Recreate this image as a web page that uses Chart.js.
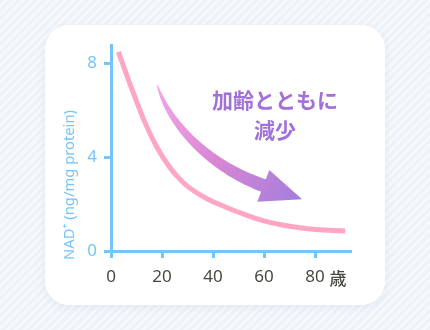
<!DOCTYPE html>
<html>
<head>
<meta charset="utf-8">
<script src="https://cdn.jsdelivr.net/npm/chart.js@4.4.1/dist/chart.umd.min.js"></script>
<style>
  html, body { margin:0; padding:0; }
  body {
    width:430px; height:330px; overflow:hidden; position:relative;
    background: repeating-linear-gradient(135deg, #eef3f8 0px, #eef3f8 3px, #f6f9fc 3px, #f6f9fc 6px);
  }
  #card {
    position:absolute; left:45px; top:25px; width:340px; height:280px;
    background:#fff; border-radius:24px;
    box-shadow: 0 2px 10px rgba(150,170,195,0.18);
  }
  #wrap { position:absolute; left:0; top:0; width:430px; height:330px; }
</style>
</head>
<body>
<div id="card"></div>
<div id="wrap"><canvas id="c" width="430" height="330"></canvas></div>
<script>
// ---- data ----
const ages      = [2.9, 8, 13, 18, 23, 28, 33, 38, 43, 50, 60, 70, 80, 91.8];
const nadValues = [8.48, 6.95, 5.55, 4.42, 3.57, 2.95, 2.52, 2.20, 1.96, 1.65, 1.28, 1.05, 0.92, 0.85];
const xTicks    = [0, 20, 40, 60, 80];
const yTicks    = [0, 4, 8];
const xUnit     = '歳';
const yTitle    = 'NAD⁺ (ng/mg protein)';
const noteLines = ['加齢とともに', '減少'];

const BLUE = '#76c5f9';
const FONT = '"Noto Sans", Lato, "Noto Sans CJK JP", sans-serif';

const decor = {
  id: 'decor',
  afterDraw(chart) {
    const ctx = chart.ctx, xs = chart.scales.x, ys = chart.scales.y;
    const P = (a, v) => [xs.getPixelForValue(a), ys.getPixelForValue(v)];
    // arrow (annotation) in data coordinates
    const p0 = P(18.04, 7.106), p1 = P(23.14, 5.234), p2 = P(40.78, 3.447), p3 = P(61.57, 2.723);
    const tip = P(74.9, 2.2), b1 = P(62.08, 3.447), b2 = P(57.37, 2.098);
    const bez = (t) => {
      const u = 1 - t;
      const c = [u*u*u, 3*u*u*t, 3*u*t*t, t*t*t];
      return [c[0]*p0[0]+c[1]*p1[0]+c[2]*p2[0]+c[3]*p3[0], c[0]*p0[1]+c[1]*p1[1]+c[2]*p2[1]+c[3]*p3[1]];
    };
    const N = 60, left = [], right = [];
    for (let i = 0; i <= N; i++) {
      const t = i / N;
      const a = bez(Math.max(0, t - 0.001)), b = bez(Math.min(1, t + 0.001));
      let dx = b[0]-a[0], dy = b[1]-a[1]; const L = Math.hypot(dx, dy) || 1; dx/=L; dy/=L;
      const w = 6.8 * Math.pow(t, 0.6);
      const c = bez(t);
      left.push([c[0] - dy*w, c[1] + dx*w]);
      right.push([c[0] + dy*w, c[1] - dx*w]);
    }
    const g = ctx.createLinearGradient(p0[0], p0[1], tip[0], tip[1]);
    g.addColorStop(0, '#f4a8e6');
    g.addColorStop(0.5, '#d887d4');
    g.addColorStop(1, '#a47ddd');
    ctx.save();
    ctx.fillStyle = g;
    ctx.beginPath();
    left.forEach((p, i) => i ? ctx.lineTo(p[0], p[1]) : ctx.moveTo(p[0], p[1]));
    for (let i = right.length - 1; i >= 0; i--) ctx.lineTo(right[i][0], right[i][1]);
    ctx.closePath(); ctx.fill();
    ctx.beginPath();
    ctx.moveTo(b1[0], b1[1]); ctx.lineTo(tip[0], tip[1]); ctx.lineTo(b2[0], b2[1]);
    ctx.closePath(); ctx.fill();
    // note text
    ctx.fillStyle = '#a170d8';
    ctx.font = 'bold 21px "Noto Sans CJK JP", sans-serif';
    ctx.textAlign = 'center'; ctx.textBaseline = 'middle';
    const t1 = P(64.3, 6.43), t2 = P(64.3, 5.15);
    ctx.fillText(noteLines[0], t1[0], t1[1]);
    ctx.fillText(noteLines[1], t2[0], t2[1]);
    // unit after last x tick
    ctx.fillStyle = '#4a4840';
    ctx.font = '500 17px "Noto Sans CJK JP", sans-serif';
    const ux = xs.getPixelForValue(80) + 23;
    ctx.fillText(xUnit, ux, 279);
    // y title, fitted to the reference span (~150px)
    ctx.translate(70, 185);
    ctx.rotate(-Math.PI / 2);
    ctx.fillStyle = BLUE;
    let fs = 15;
    ctx.font = fs + 'px ' + FONT;
    fs = fs * 150 / ctx.measureText(yTitle).width;
    ctx.font = fs.toFixed(2) + 'px ' + FONT;
    ctx.fillText(yTitle, 0, 0);
    ctx.restore();
  }
};

new Chart(document.getElementById('c'), {
  type: 'line',
  data: {
    datasets: [{
      data: ages.map((a, i) => ({ x: a, y: nadValues[i] })),
      borderColor: '#ffa6c3',
      borderWidth: 5,
      pointRadius: 0,
      tension: 0.4,
      fill: false
    }]
  },
  options: {
    responsive: false,
    animation: false,
    layout: { padding: { left: 0, top: 45, right: 80, bottom: 0 } },
    plugins: { legend: { display: false }, tooltip: { enabled: false } },
    scales: {
      x: {
        type: 'linear', min: 0, max: 93.7,
        afterFit: (s) => { s.height = 79; },
        afterBuildTicks: (s) => { s.ticks = xTicks.map(v => ({ value: v })); },
        border: { display: true, color: BLUE, width: 3 },
        grid: { display: true, drawOnChartArea: false, drawTicks: true, tickLength: 7, color: BLUE, lineWidth: 3 },
        ticks: { color: '#4a4840', padding: 9, font: { family: FONT, size: 17 }, maxRotation: 0 }
      },
      y: {
        type: 'linear', min: 0, max: 8.77,
        afterFit: (s) => { s.width = 111; },
        afterBuildTicks: (s) => { s.ticks = yTicks.map(v => ({ value: v })); },
        border: { display: true, color: BLUE, width: 3 },
        grid: { display: true, drawOnChartArea: false, drawTicks: true, tickLength: 7, color: BLUE, lineWidth: 3 },
        ticks: { color: BLUE, padding: 7, font: { family: FONT, size: 17 } }
      }
    }
  },
  plugins: [decor]
});
</script>
</body>
</html>
